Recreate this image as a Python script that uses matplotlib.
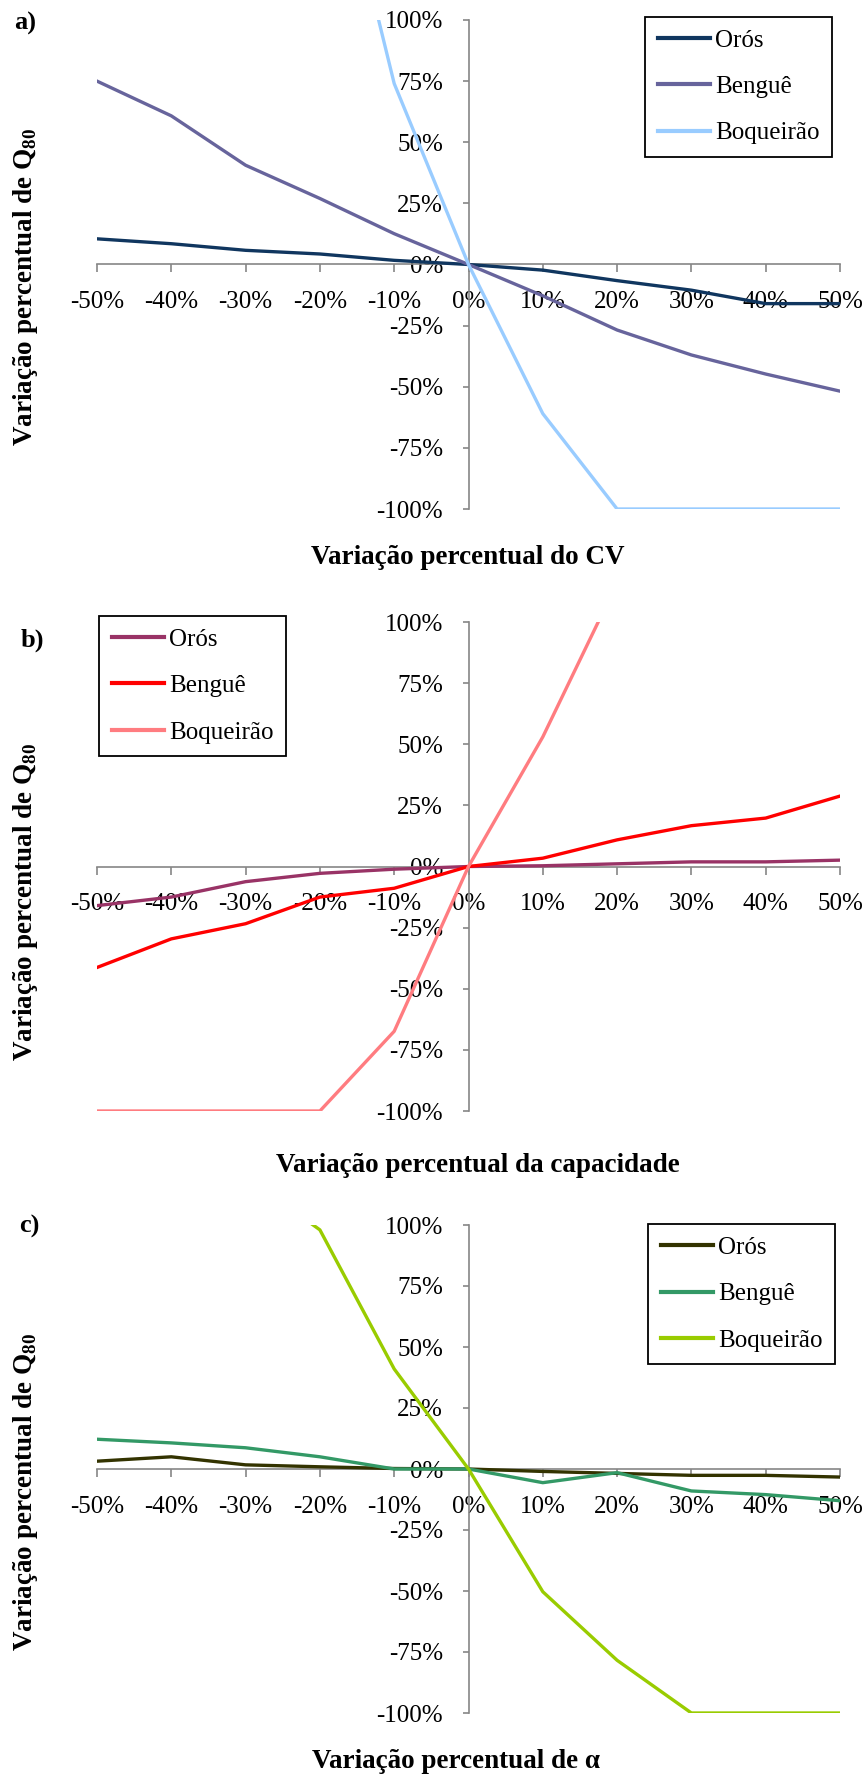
import numpy as np
import matplotlib
matplotlib.use("Agg")
import matplotlib.pyplot as plt
from matplotlib.ticker import FixedLocator, FuncFormatter

plt.rcParams['font.family'] = ['Liberation Serif', 'DejaVu Serif']
plt.rcParams['mathtext.fontset'] = 'custom'
plt.rcParams['mathtext.rm'] = 'Liberation Serif'
plt.rcParams['mathtext.bf'] = 'Liberation Serif:bold'

# variacao dos parametros (%)
variacao = [-50, -40, -30, -20, -10, 0, 10, 20, 30, 40, 50]
reservatorios = ['Orós', 'Benguê', 'Boqueirão']

# a) variacao do CV
oros_cv = [10.5, 8.5, 5.8, 4.3, 1.7, 0, -2.3, -6.6, -10.5, -16.0, -16.0]
bengue_cv = [75.0, 60.8, 40.6, 27.0, 12.6, 0, -12.8, -26.8, -37.0, -44.8, -51.8]
boq_cv = [560, 420, 300, 198, 74.0, 0, -61.0, -100, -100, -100, -100]

# b) variacao da capacidade
oros_cap = [-16.0, -12.5, -6.2, -2.8, -1.1, 0, 0.3, 1.1, 1.9, 1.9, 2.6]
bengue_cap = [-41.3, -29.6, -23.4, -12.5, -8.9, 0, 3.4, 10.9, 16.7, 19.8, 28.8]
boq_cap = [-100, -100, -100, -100, -67.4, 0, 53.0, 116, 190, 260, 330]

# c) variacao de alfa
oros_alfa = [3.2, 5.0, 1.7, 0.9, 0.2, 0, -1.0, -1.8, -2.6, -2.6, -3.3]
bengue_alfa = [12.2, 10.7, 8.7, 5.0, 0, 0, -5.6, -1.5, -9.0, -10.5, -13.0]
boq_alfa = [180, 150, 120, 98, 41.0, 0, -50.3, -78.4, -100, -100, -100]

yticks = [-100, -75, -50, -25, 0, 25, 50, 75, 100]

W, H = 863, 1776
fig = plt.figure(figsize=(W / 100, H / 100), dpi=100)


def px(x0, y0, x1, y1):
    # caixa em pixels -> fracao da figura
    return [x0 / W, 1 - y1 / H, (x1 - x0) / W, (y1 - y0) / H]


def painel(caixa, series, cores, letra, pos_letra, xlabel, pos_xlabel, pos_ylabel,
           leg_loc, leg_anchor):
    ax = fig.add_axes(px(*caixa))
    for serie, cor, nome in zip(series, cores, reservatorios):
        ax.plot(variacao, serie, color=cor, lw=2.4, label=nome, zorder=3,
                solid_joinstyle='round')
    ax.set_xlim(-50, 50)
    ax.set_ylim(-100, 100)
    for s in ['top', 'right']:
        ax.spines[s].set_visible(False)
    ax.spines['left'].set_position('zero')
    ax.spines['bottom'].set_position('zero')
    for s in ['left', 'bottom']:
        ax.spines[s].set_color('#868686')
        ax.spines[s].set_linewidth(1.2)
        ax.spines[s].set_zorder(2)
    ax.xaxis.set_major_locator(FixedLocator(variacao))
    ax.yaxis.set_major_locator(FixedLocator(yticks))
    pct = FuncFormatter(lambda v, p: '%d%%' % v)
    ax.xaxis.set_major_formatter(pct)
    ax.yaxis.set_major_formatter(pct)
    ax.tick_params(axis='x', direction='out', length=5.8, width=1.2,
                   color='#868686', pad=13.5, labelsize=18)
    ax.tick_params(axis='y', direction='out', length=4.3, width=1.2,
                   color='#868686', pad=14, labelsize=18)
    ax.patch.set_visible(False)

    leg = ax.legend(loc=leg_loc, bbox_to_anchor=(leg_anchor[0] / W, 1 - leg_anchor[1] / H),
                    bbox_transform=fig.transFigure, borderaxespad=0, fontsize=18,
                    fancybox=False, framealpha=1, edgecolor='black',
                    handlelength=2.1, handletextpad=0.2, labelspacing=0.95,
                    borderpad=0.5)
    leg.get_frame().set_linewidth(1.3)
    for l in leg.get_lines():
        l.set_linewidth(3)

    fig.text(pos_letra[0] / W, 1 - pos_letra[1] / H, letra, fontsize=19,
             fontweight='bold', ha='left', va='top')
    fig.text(pos_xlabel[0] / W, 1 - pos_xlabel[1] / H, xlabel, fontsize=19.5,
             fontweight='bold', ha='center', va='center')
    fig.text(pos_ylabel[0] / W, 1 - pos_ylabel[1] / H,
             r'Variação percentual de Q$_{\mathbf{80}}$', fontsize=19.5,
             fontweight='bold', rotation=90, ha='center', va='center')
    return ax


painel((97, 20, 840, 509), [oros_cv, bengue_cv, boq_cv],
       ['#10365F', '#67649C', '#99CCFF'], 'a)', (14, 12),
       'Variação percentual do CV', (468, 557), (26, 287),
       'upper right', (832, 17))

painel((97, 622, 840, 1111), [oros_cap, bengue_cap, boq_cap],
       ['#993366', '#FF0000', '#FF7C80'], 'b)', (21, 629),
       'Variação percentual da capacidade', (478, 1165), (26, 902),
       'upper left', (99, 616))

painel((97, 1225, 840, 1713), [oros_alfa, bengue_alfa, boq_alfa],
       ['#333300', '#339966', '#99CC00'], 'c)', (19, 1215),
       'Variação percentual de α', (456, 1761), (26, 1492),
       'upper right', (835, 1224))

fig.savefig('out.png', dpi=100)
